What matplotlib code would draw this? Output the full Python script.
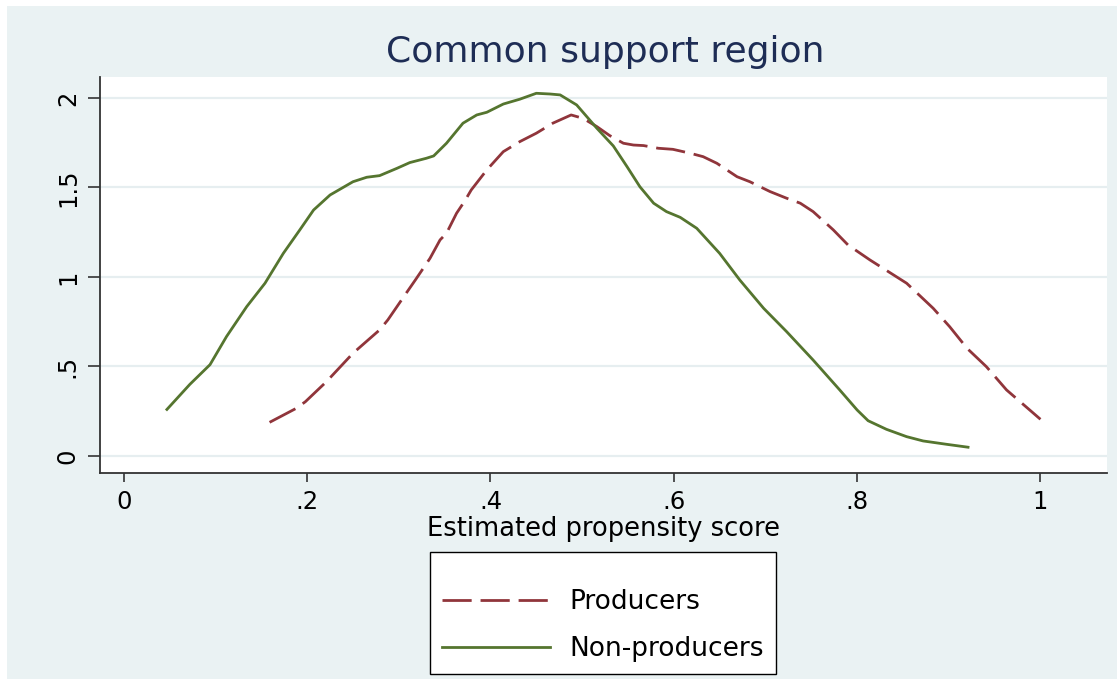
import matplotlib.pyplot as plt
from matplotlib.patches import Rectangle

# Dados (densidade do escore de propensao)
x_prod = [0.159, 0.188, 0.198, 0.221, 0.250, 0.279, 0.288, 0.308, 0.318, 0.334,
          0.345, 0.352, 0.363, 0.372, 0.379, 0.396, 0.414, 0.432, 0.450, 0.468,
          0.488, 0.501, 0.516, 0.530, 0.545, 0.556, 0.567, 0.583, 0.599, 0.618,
          0.632, 0.647, 0.669, 0.683, 0.705, 0.723, 0.738, 0.752, 0.774, 0.790,
          0.814, 0.854, 0.883, 0.901, 0.920, 0.941, 0.963, 1.000]
y_prod = [0.188, 0.266, 0.303, 0.415, 0.574, 0.704, 0.760, 0.909, 0.983, 1.104,
          1.207, 1.244, 1.356, 1.425, 1.486, 1.598, 1.700, 1.756, 1.803, 1.859,
          1.905, 1.886, 1.840, 1.790, 1.747, 1.737, 1.734, 1.719, 1.713, 1.691,
          1.672, 1.635, 1.560, 1.532, 1.477, 1.440, 1.412, 1.365, 1.263, 1.179,
          1.095, 0.965, 0.825, 0.722, 0.601, 0.499, 0.369, 0.205]

x_nonprod = [0.047, 0.072, 0.094, 0.112, 0.134, 0.154, 0.174, 0.192, 0.207, 0.225,
             0.250, 0.265, 0.279, 0.298, 0.312, 0.330, 0.338, 0.352, 0.370, 0.385,
             0.396, 0.414, 0.432, 0.450, 0.465, 0.476, 0.494, 0.516, 0.534, 0.549,
             0.563, 0.578, 0.592, 0.607, 0.625, 0.650, 0.672, 0.698, 0.723, 0.752,
             0.781, 0.800, 0.812, 0.832, 0.854, 0.872, 0.898, 0.921]
y_nonprod = [0.260, 0.400, 0.510, 0.667, 0.834, 0.965, 1.132, 1.263, 1.374, 1.458,
             1.532, 1.557, 1.566, 1.607, 1.639, 1.663, 1.676, 1.747, 1.859, 1.905,
             1.920, 1.966, 1.993, 2.026, 2.022, 2.017, 1.961, 1.831, 1.732, 1.616,
             1.504, 1.412, 1.365, 1.333, 1.272, 1.132, 0.983, 0.825, 0.695, 0.536,
             0.369, 0.257, 0.197, 0.149, 0.108, 0.084, 0.065, 0.049]

x_ticks = [0, 0.2, 0.4, 0.6, 0.8, 1]
x_ticklabels = ['0', '.2', '.4', '.6', '.8', '1']
y_ticks = [0, 0.5, 1, 1.5, 2]
y_ticklabels = ['0', '.5', '1', '1.5', '2']

plt.rcParams['font.family'] = ['DejaVu Sans']

W, H = 1117, 679
fig = plt.figure(figsize=(W / 100, H / 100), dpi=100, facecolor='white')

# fundo azul claro estilo Stata
fig.patches.append(Rectangle((7 / W, 0), 1 - 7 / W, 1 - 6 / H, transform=fig.transFigure,
                             facecolor='#eaf2f3', edgecolor='none', zorder=-10))

ax = fig.add_axes([100 / W, 1 - 473 / H, (1107 - 100) / W, (473 - 77) / H])
ax.set_facecolor('white')

ax.plot(x_prod, y_prod, color='#90353b', lw=2.0, linestyle=(0, (10.5, 3.2)), label='Producers')
ax.plot(x_nonprod, y_nonprod, color='#55752f', lw=2.0, label='Non-producers')

ax.set_xlim(-0.026, 1.0726)
ax.set_ylim(-0.095, 2.117)

ax.set_xticks(x_ticks)
ax.set_xticklabels(x_ticklabels)
ax.set_yticks(y_ticks)
ax.set_yticklabels(y_ticklabels, rotation=90, va='center')

ax.tick_params(axis='x', length=6.5, width=1.2, color='#333333', labelsize=17.5, pad=6)
ax.tick_params(axis='y', length=8.5, width=1.2, color='#333333', labelsize=17.5, pad=6)

for s in ['top', 'right']:
    ax.spines[s].set_visible(False)
for s in ['left', 'bottom']:
    ax.spines[s].set_color('#333333')
    ax.spines[s].set_linewidth(1.3)

ax.grid(axis='y', color='#e6eef0', lw=1.6)
ax.set_axisbelow(True)

ax.set_xlabel('Estimated propensity score', fontsize=18.5, labelpad=1)
fig.suptitle('Common support region', fontsize=26, color='#1e2d55', y=1 - 52 / H, va='center',
             x=605 / W)

leg = fig.legend(loc='center', bbox_to_anchor=(603 / W, 1 - 613 / H), ncol=1,
                 fontsize=19, frameon=True, fancybox=False, edgecolor='black',
                 handlelength=4.1, handletextpad=0.72, labelspacing=0.8,
                 borderpad=0.45, title=' ', title_fontsize=3)
leg.get_frame().set_linewidth(1.0)
leg.get_frame().set_facecolor('white')
leg.get_frame().set_alpha(1)

fig.savefig('out.png', dpi=100, facecolor=fig.get_facecolor())
